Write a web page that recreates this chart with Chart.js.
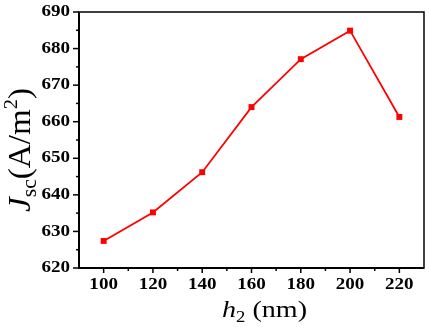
<!DOCTYPE html>
<html>
<head>
<meta charset="utf-8">
<script src="https://cdn.jsdelivr.net/npm/chart.js@4"></script>
<style>
html,body{margin:0;padding:0;background:#fff;}
#wrap{position:relative;width:429px;height:327px;}
</style>
</head>
<body>
<div id="wrap"><canvas id="c" width="429" height="327"></canvas></div>
<script>
// ---- data ----
const h2Values = [100, 120, 140, 160, 180, 200, 220];
const jscValues = [627.4, 635.2, 646.2, 664.0, 677.1, 684.9, 661.3];
const xTickLabels = [100, 120, 140, 160, 180, 200, 220];
const yTickLabels = [620, 630, 640, 650, 660, 670, 680, 690];

const SERIF = '"Liberation Serif", "Times New Roman", serif';
const STRETCH = 1.19; // horizontal stretch of the reference image

function drawRich(ctx, parts, x, y, opts) {
  ctx.save();
  ctx.translate(x, y);
  if (opts.rotate) ctx.rotate(-Math.PI / 2);
  let total = 0;
  parts.forEach(p => { ctx.font = p.font; p.w = ctx.measureText(p.t).width; total += p.w; });
  const sx = opts.length ? opts.length / total : (opts.sx || 1);
  ctx.scale(sx, opts.sy || 1);
  ctx.fillStyle = '#000';
  ctx.textBaseline = 'alphabetic';
  ctx.textAlign = 'left';
  let cx = -total / 2;
  parts.forEach(p => { ctx.font = p.font; ctx.fillText(p.t, cx, p.dy || 0); cx += p.w; });
  ctx.restore();
}

function drawLabel(ctx, text, x, y, align) {
  ctx.save();
  ctx.translate(x, y);
  ctx.scale(STRETCH, 1);
  ctx.font = 'bold 16px ' + SERIF;
  ctx.fillStyle = '#000';
  ctx.textAlign = align;
  ctx.textBaseline = 'middle';
  ctx.fillText(String(text), 0, 0);
  ctx.restore();
}

const axesPlugin = {
  id: 'originAxes',
  beforeDatasetsDraw(chart) {
    const ctx = chart.ctx;
    const a = chart.chartArea;
    const xs = chart.scales.x, ys = chart.scales.y;
    ctx.save();
    ctx.strokeStyle = '#000';
    // frame
    ctx.lineWidth = 1.5;
    ctx.strokeRect(a.left, a.top, a.right - a.left, a.bottom - a.top);
    ctx.lineWidth = 2;
    ctx.beginPath();
    ctx.moveTo(a.left, a.top); ctx.lineTo(a.left, a.bottom); ctx.lineTo(a.right, a.bottom);
    ctx.stroke();
    // ticks
    ctx.lineWidth = 1.5;
    xs.ticks.forEach(t => {
      const px = xs.getPixelForValue(t.value);
      if (px <= a.left + 0.5 || px >= a.right - 0.5) return;
      const len = (t.value % 20 === 0) ? 5 : 3;
      ctx.beginPath(); ctx.moveTo(px, a.bottom); ctx.lineTo(px, a.bottom + len); ctx.stroke();
    });
    ys.ticks.forEach(t => {
      const py = ys.getPixelForValue(t.value);
      const len = (t.value % 10 === 0) ? 6 : 3;
      ctx.beginPath(); ctx.moveTo(a.left, py); ctx.lineTo(a.left - len, py); ctx.stroke();
    });
    ctx.restore();
    // tick labels
    xTickLabels.forEach(v => drawLabel(ctx, v, xs.getPixelForValue(v), a.bottom + 17, 'center'));
    yTickLabels.forEach(v => drawLabel(ctx, v, a.left - 9, ys.getPixelForValue(v), 'right'));
    // axis titles
    drawRich(ctx, [
      { t: 'h', font: 'italic 24px ' + SERIF },
      { t: '2', font: '16px ' + SERIF, dy: 5 },
      { t: ' (nm)', font: '24px ' + SERIF }
    ], (a.left + a.right) / 2 + 13, 317, { length: 85 });
    drawRich(ctx, [
      { t: 'J', font: 'italic 26px ' + SERIF },
      { t: 'sc', font: '17px ' + SERIF, dy: 5 },
      { t: '(A/m', font: '26px ' + SERIF },
      { t: '2', font: '16px ' + SERIF, dy: -11 },
      { t: ')', font: '26px ' + SERIF }
    ], 30, 150, { rotate: true, length: 124, sy: STRETCH });
  }
};

new Chart(document.getElementById('c'), {
  type: 'line',
  data: {
    datasets: [{
      data: h2Values.map((x, i) => ({ x: x, y: jscValues[i] })),
      borderColor: '#ff0000',
      backgroundColor: '#ff0000',
      borderWidth: 1.8,
      pointStyle: 'rect',
      pointRadius: 4.2,
      pointBorderWidth: 0,
      tension: 0,
      fill: false
    }]
  },
  options: {
    responsive: false,
    animation: false,
    devicePixelRatio: 1,
    layout: { padding: { left: 79, top: 12, right: 5, bottom: 59 } },
    plugins: { legend: { display: false }, tooltip: { enabled: false } },
    scales: {
      x: { type: 'linear', display: false, min: 90, max: 230, ticks: { stepSize: 10 } },
      y: { type: 'linear', display: false, min: 620, max: 690, ticks: { stepSize: 5 } }
    }
  },
  plugins: [axesPlugin]
});
</script>
</body>
</html>
